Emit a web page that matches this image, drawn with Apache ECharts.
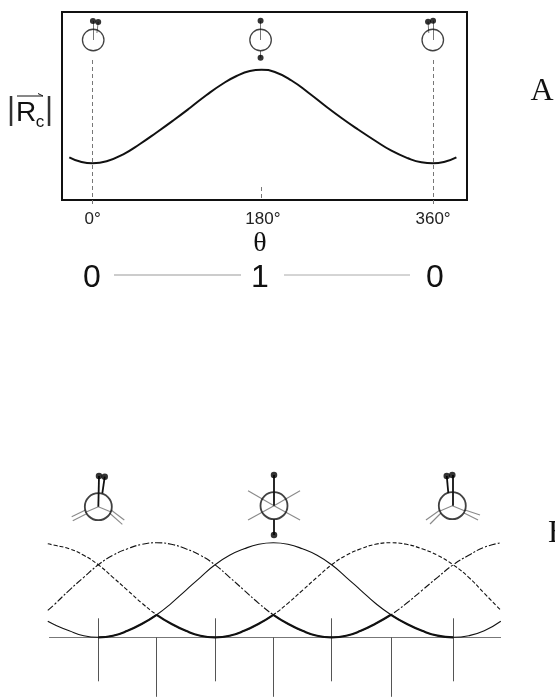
<!DOCTYPE html>
<html><head><meta charset="utf-8">
<style>html,body{margin:0;padding:0;background:#fff;overflow:hidden}#c{width:555px;height:697px}</style>
<script src="https://cdn.jsdelivr.net/npm/echarts@6/dist/echarts.min.js"></script>
</head><body><div id="c"></div>
<script>
// Panel A: magnitude versus torsion angle
const thetaA = [-24.7,-13.4,0,14.8,32.4,50,67.6,85.2,102.8,120.5,138,152.2,166.3,178.6,192.7,210.3,227.9,245.5,263.2,280.7,298.4,316,333.6,347.7,360,372.4,384.7];
const magA = [42.7,38.5,36.7,38.7,45.7,56,67.5,79.5,92,105,116.5,124,129,130.3,128,119.5,107.5,94.5,82,70.5,59.5,49.3,41.7,37.7,36.7,38.3,42.7];
const tickLabelsA = [0,180,360];
const guidesA = [[[0,140],[0,0]],[[178,13],[178,0]],[[360,140],[360,0]]];
const ringsA = [[0.6,160],[177.6,160],[359.7,160]];
const dotsA = [[0.3,179],[5.9,178],[177.6,179.3],[177.6,142.3],[354.7,178.3],[360,179.3]];
const stemsA = [[[0.6,160],[0.3,179]],[[4.5,167],[5.9,178]],[[177.6,160],[177.6,179.3]],[[177.6,149],[177.6,142.3]],[[359.7,160],[360,179.3]],[[355.5,167],[354.7,178.3]]];
const rowLabels = ['0','1','0'];

// Panel B: three torsional curves
const thetaB = [-52,-45,-30,-15,0,15,30,45,60,75,90,105,120,135,150,165,180,195,210,225,240,255,270,285,301,317,333,349,365,381,397,414];
const solidB = [16,12.5,6.5,1.6,0,1.6,6.5,13.5,22.5,34,47,60,72.5,82,88.5,93,94.5,93,88.5,82,72.5,60,47,34,22.5,13.5,6.5,1.6,0,1.6,6.5,16];
const dashedB = [93.5,92,88.5,82,72.5,60,47,34,22.5,13.5,6.5,1.6,0,1.6,6.5,13.5,22.5,34,47,60,72.5,82,88.5,93,94.5,93,88.5,82,72.5,60,44,27];
const dashDotB = [27,33,47,60,72.5,82,88.5,93,94.5,93,88.5,82,72.5,60,47,34,22.5,13.5,6.5,1.6,0,1.6,6.5,13.5,22.5,34,47,60,72.5,82,90,94.5];
const tallTicksB = [0,120,240,365];
const shortTicksB = [60,180,301];
const baseRange = [-50.7,414.2];
const ringsB = [[0,130.6],[180.7,131.6],[364.1,131.6]];
const dotsB = [[0.7,161.3],[6.6,160.6],[180.7,162.3],[180.7,102.3],[358.4,161.3],[364.1,162.3]];
const stemsB = [[[0,130.6],[0.7,161.3]],[[4.1,144],[6.6,160.6]],[[180.7,131.6],[180.7,162.3]],[[180.7,118],[180.7,102.3]],[[364.1,131.6],[364.1,162.3]],[[360,144.3],[358.4,161.3]]];
const graysB = [
 [[0,130.6],[-13.7,124.8]],[[-13.2,127.3],[-27.4,120.6]],[[-11.6,123.8],[-26.3,116.6]],
 [[0,130.6],[13.1,125.3]],[[13.1,127.3],[26.7,117.3]],[[11.5,124.3],[24.7,113]],
 [[180.7,131.6],[154,146.6]],[[180.7,131.6],[154,117.3]],[[180.7,131.6],[207.5,146.6]],[[180.7,131.6],[207.5,117.3]],
 [[364.1,131.6],[351.5,126.3]],[[351.5,127.3],[337,117.3]],[[352.5,124.3],[341.2,113.3]],
 [[364.1,131.6],[377.2,126.3]],[[377.2,127.3],[392.6,122.3]],[[376.2,124.3],[390.6,117.3]]
];

const pts = (ys) => thetaB.map((x,i)=>[x,ys[i]]);
const part = (ys,a,b) => pts(ys).filter(p=>p[0]>=a&&p[0]<=b);
const sans = '"Liberation Sans", Arial, sans-serif';
const serif = '"Liberation Serif", "Times New Roman", serif';
const seg = (name,arr,g,color,width,type) => ({name,type:'lines',coordinateSystem:'cartesian2d',xAxisIndex:g,yAxisIndex:g,polyline:false,silent:true,
  data:arr.map(c=>({coords:c})),lineStyle:{color,width,type:type||'solid',opacity:1},effect:{show:false}});
const curve = (name,data,width,type) => ({name,type:'line',xAxisIndex:1,yAxisIndex:1,data,smooth:0.5,showSymbol:false,symbol:'none',silent:true,clip:true,
  lineStyle:{color:'#111',width,type:type||'solid'}});
const rings = (name,data,g,size,w) => ({name,type:'scatter',xAxisIndex:g,yAxisIndex:g,data,symbol:'circle',symbolSize:size,silent:true,
  itemStyle:{color:'rgba(0,0,0,0)',borderColor:'#111',borderWidth:w}});
const dots = (name,data,g,size) => ({name,type:'scatter',xAxisIndex:g,yAxisIndex:g,data,symbol:'circle',symbolSize:size,silent:true,itemStyle:{color:'#000'}});
const gText = (text,x,y,size,family,extra) => ({type:'text',x,y,silent:true,style:Object.assign({text,font:size+'px '+family,fill:'#111',textAlign:'center',textVerticalAlign:'middle'},extra||{})});
const gLine = (x1,y1,x2,y2,stroke,w) => ({type:'line',silent:true,shape:{x1,y1,x2,y2},style:{stroke,lineWidth:w}});

const chart = echarts.init(document.getElementById('c'),null,{renderer:'canvas'});
chart.setOption({
  animation:false,backgroundColor:'#fff',
  grid:[
    {left:62,top:12,width:405,height:188,show:true,borderColor:'#111',borderWidth:2,backgroundColor:'transparent'},
    {left:47,top:470,width:454,height:227,show:false}
  ],
  xAxis:[
    {gridIndex:0,type:'value',min:-32.4,max:395.9,splitLine:{show:false},axisLine:{show:false},
     axisTick:{show:true,customValues:[0,360],length:6,inside:false,lineStyle:{color:'#777',type:'dashed'}},
     axisLabel:{customValues:tickLabelsA,formatter:'{value}°',fontFamily:sans,fontSize:17,color:'#222',margin:11,hideOverlap:false}},
    {gridIndex:1,type:'value',min:-52.8,max:414.2,show:false,splitLine:{show:false}}
  ],
  yAxis:[
    {gridIndex:0,type:'value',min:0,max:188,show:false,splitLine:{show:false}},
    {gridIndex:1,type:'value',min:-59.7,max:167.3,show:false,splitLine:{show:false}}
  ],
  series:[
    seg('guides',guidesA,0,'#777',1,[4,3]),
    {name:'magnitude',type:'line',xAxisIndex:0,yAxisIndex:0,data:thetaA.map((x,i)=>[x,magA[i]]),smooth:0.5,symbol:'none',silent:true,lineStyle:{color:'#111',width:2}},
    seg('stemsA',stemsA,0,'#777',1),
    rings('ringsA',ringsA,0,21.5,1.3),
    dots('dotsA',dotsA,0,6),

    seg('baseline',[[[baseRange[0],0],[baseRange[1],0]]],1,'#777',1.2),
    seg('tallTicks',tallTicksB.map(x=>[[x,19],[x,-44]]),1,'#555',1),
    seg('shortTicks',shortTicksB.map(x=>[[x,0],[x,-59.5]]),1,'#555',1),
    curve('solid',pts(solidB),1.1),
    curve('dashed',pts(dashedB),1.1,[4,2]),
    curve('dashDot',pts(dashDotB),1.1,[7,2,2,2]),
    curve('well1',part(solidB,0,60),2.2),
    curve('well2',part(dashedB,60,180),2.2),
    curve('well3',part(dashDotB,180,301),2.2),
    curve('well4',part(solidB,301,365),2.2),
    seg('grayB',graysB,1,'#8a8a8a',1.1),
    seg('stemsB',stemsB,1,'#111',1.8),
    rings('ringsB',ringsB,1,27,1.8),
    dots('dotsB',dotsB,1,6.5)
  ],
  graphic:[
    gText('|',11,110,31,sans,{fill:'#333'}),
    gText('R',26,113,28,sans),
    gText('c',40,122,17,sans),
    gText('|',49,110,31,sans,{fill:'#333'}),
    gLine(17,96,43,96,'#111',1),
    gLine(38,93.5,43,96,'#111',1),
    gText('θ',260,244,28,serif),
    gText(rowLabels[0],92,278,32,sans),
    gText(rowLabels[1],260,278,32,sans),
    gText(rowLabels[2],435,278,32,sans),
    gLine(114,275,241,275,'#999',1),
    gLine(284,275,410,275,'#aaa',1),
    gText('A',542,92,32,serif),
    gText('B',558.7,534,32,serif)
  ]
});
</script></body></html>
